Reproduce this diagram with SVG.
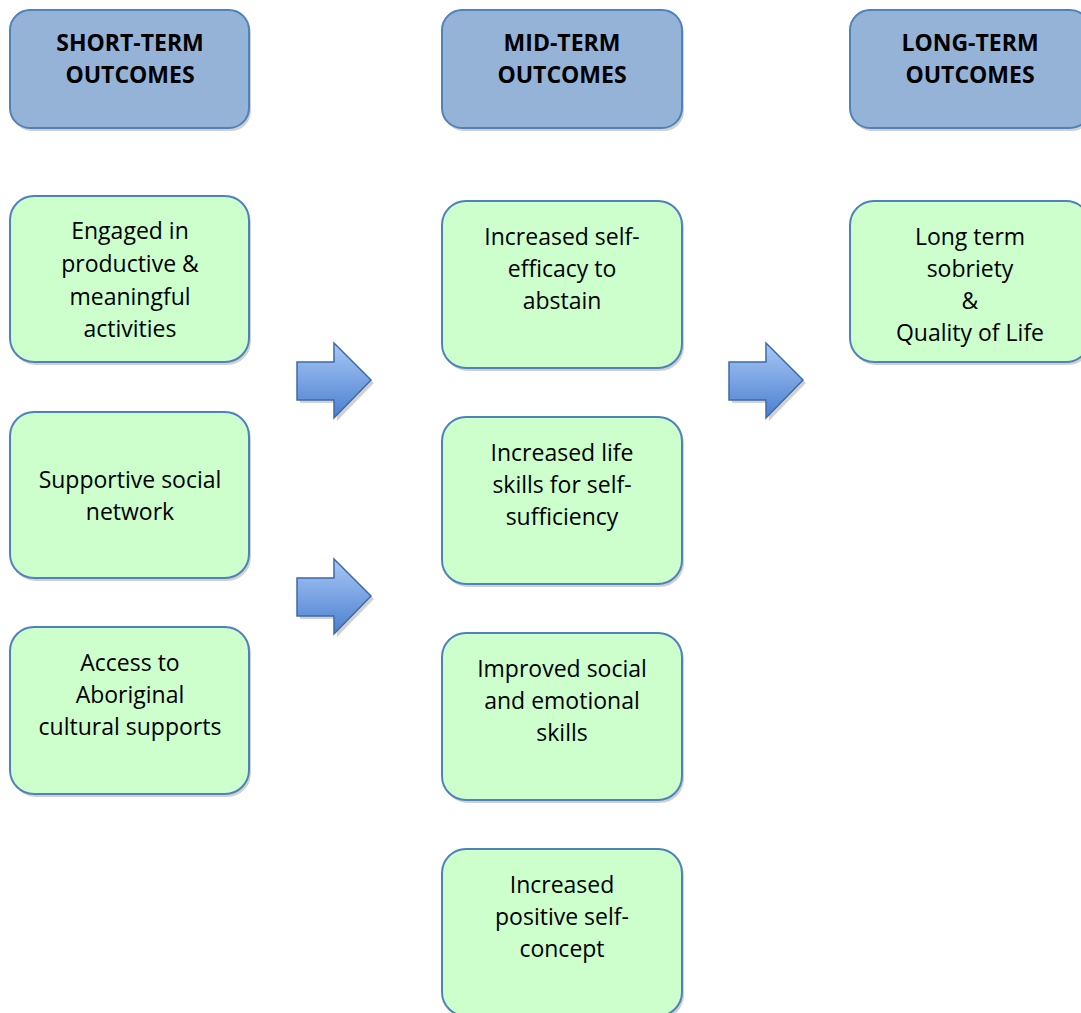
<svg xmlns="http://www.w3.org/2000/svg" width="1081" height="1013" viewBox="0 0 1081 1013">
<style>
.hdr{fill:#95b3d7;stroke:#4f81bd;stroke-width:2}
.box{fill:#ccffcc;stroke:#4f81bd;stroke-width:2}
.sh{fill:#000;opacity:0.18}
.ht{font-family:"Open Sans","Liberation Sans",sans-serif;font-weight:bold;font-size:23px;fill:#000;text-anchor:middle}
.bt{font-family:"Open Sans","Liberation Sans",sans-serif;font-size:23px;fill:#000;text-anchor:middle}
.arr{fill:url(#ag);stroke:#3c6aa8;stroke-width:1.5}
</style>
<defs>
<linearGradient id="ag" x1="0" y1="0" x2="0" y2="1">
<stop offset="0" stop-color="#a9c8f5"/>
<stop offset="1" stop-color="#4a7fd0"/>
</linearGradient>
</defs>
<g id="h1"><rect class="sh" x="12" y="13" width="239" height="118" rx="20"/><rect class="hdr" x="10" y="10" width="239" height="118" rx="20"/><text class="ht" x="130" y="51">SHORT-TERM</text><text class="ht" x="130" y="83">OUTCOMES</text></g>
<g id="h2"><rect class="sh" x="444" y="13" width="240" height="118" rx="20"/><rect class="hdr" x="442" y="10" width="240" height="118" rx="20"/><text class="ht" x="562" y="51">MID-TERM</text><text class="ht" x="562" y="83">OUTCOMES</text></g>
<g id="h3"><rect class="sh" x="852" y="13" width="240" height="118" rx="20"/><rect class="hdr" x="850" y="10" width="240" height="118" rx="20"/><text class="ht" x="970" y="51">LONG-TERM</text><text class="ht" x="970" y="83">OUTCOMES</text></g>
<g id="s1"><rect class="sh" x="12" y="199" width="239" height="166" rx="24"/><rect class="box" x="10" y="196" width="239" height="166" rx="24"/><text class="bt" x="130" y="239">Engaged in</text><text class="bt" x="130" y="272">productive &amp;</text><text class="bt" x="130" y="305">meaningful</text><text class="bt" x="130" y="337">activities</text></g>
<g id="s2"><rect class="sh" x="12" y="415" width="239" height="166" rx="24"/><rect class="box" x="10" y="412" width="239" height="166" rx="24"/><text class="bt" x="130" y="488">Supportive social</text><text class="bt" x="130" y="520">network</text></g>
<g id="s3"><rect class="sh" x="12" y="630" width="239" height="167" rx="24"/><rect class="box" x="10" y="627" width="239" height="167" rx="24"/><text class="bt" x="130" y="671">Access to</text><text class="bt" x="130" y="703">Aboriginal</text><text class="bt" x="130" y="735">cultural supports</text></g>
<g id="m1"><rect class="sh" x="444" y="204" width="240" height="167" rx="24"/><rect class="box" x="442" y="201" width="240" height="167" rx="24"/><text class="bt" x="562" y="245">Increased self-</text><text class="bt" x="562" y="277">efficacy to</text><text class="bt" x="562" y="309">abstain</text></g>
<g id="m2"><rect class="sh" x="444" y="420" width="240" height="167" rx="24"/><rect class="box" x="442" y="417" width="240" height="167" rx="24"/><text class="bt" x="562" y="461">Increased life</text><text class="bt" x="562" y="493">skills for self-</text><text class="bt" x="562" y="525">sufficiency</text></g>
<g id="m3"><rect class="sh" x="444" y="636" width="240" height="167" rx="24"/><rect class="box" x="442" y="633" width="240" height="167" rx="24"/><text class="bt" x="562" y="677">Improved social</text><text class="bt" x="562" y="709">and emotional</text><text class="bt" x="562" y="741">skills</text></g>
<g id="m4"><rect class="sh" x="444" y="852" width="240" height="167" rx="24"/><rect class="box" x="442" y="849" width="240" height="167" rx="24"/><text class="bt" x="562" y="893">Increased</text><text class="bt" x="562" y="925">positive self-</text><text class="bt" x="562" y="957">concept</text></g>
<g id="l1"><rect class="sh" x="852" y="204" width="240" height="161" rx="24"/><rect class="box" x="850" y="201" width="240" height="161" rx="24"/><text class="bt" x="970" y="245">Long term</text><text class="bt" x="970" y="277">sobriety</text><text class="bt" x="970" y="309">&amp;</text><text class="bt" x="970" y="341">Quality of Life</text></g>
<g id="connectors">
<path class="sh" d="M300 365 H337 V346 L374 383 L337 421 V403 H300 Z"/>
<path class="arr" d="M297 362 H334 V343 L371 380 L334 418 V400 H297 Z"/>
<path class="sh" d="M300 581 H337 V562 L374 599 L337 637 V619 H300 Z"/>
<path class="arr" d="M297 578 H334 V559 L371 596 L334 634 V616 H297 Z"/>
<path class="sh" d="M732 365 H769 V346 L806 383 L769 421 V403 H732 Z"/>
<path class="arr" d="M729 362 H766 V343 L803 380 L766 418 V400 H729 Z"/>
</g>
</svg>
